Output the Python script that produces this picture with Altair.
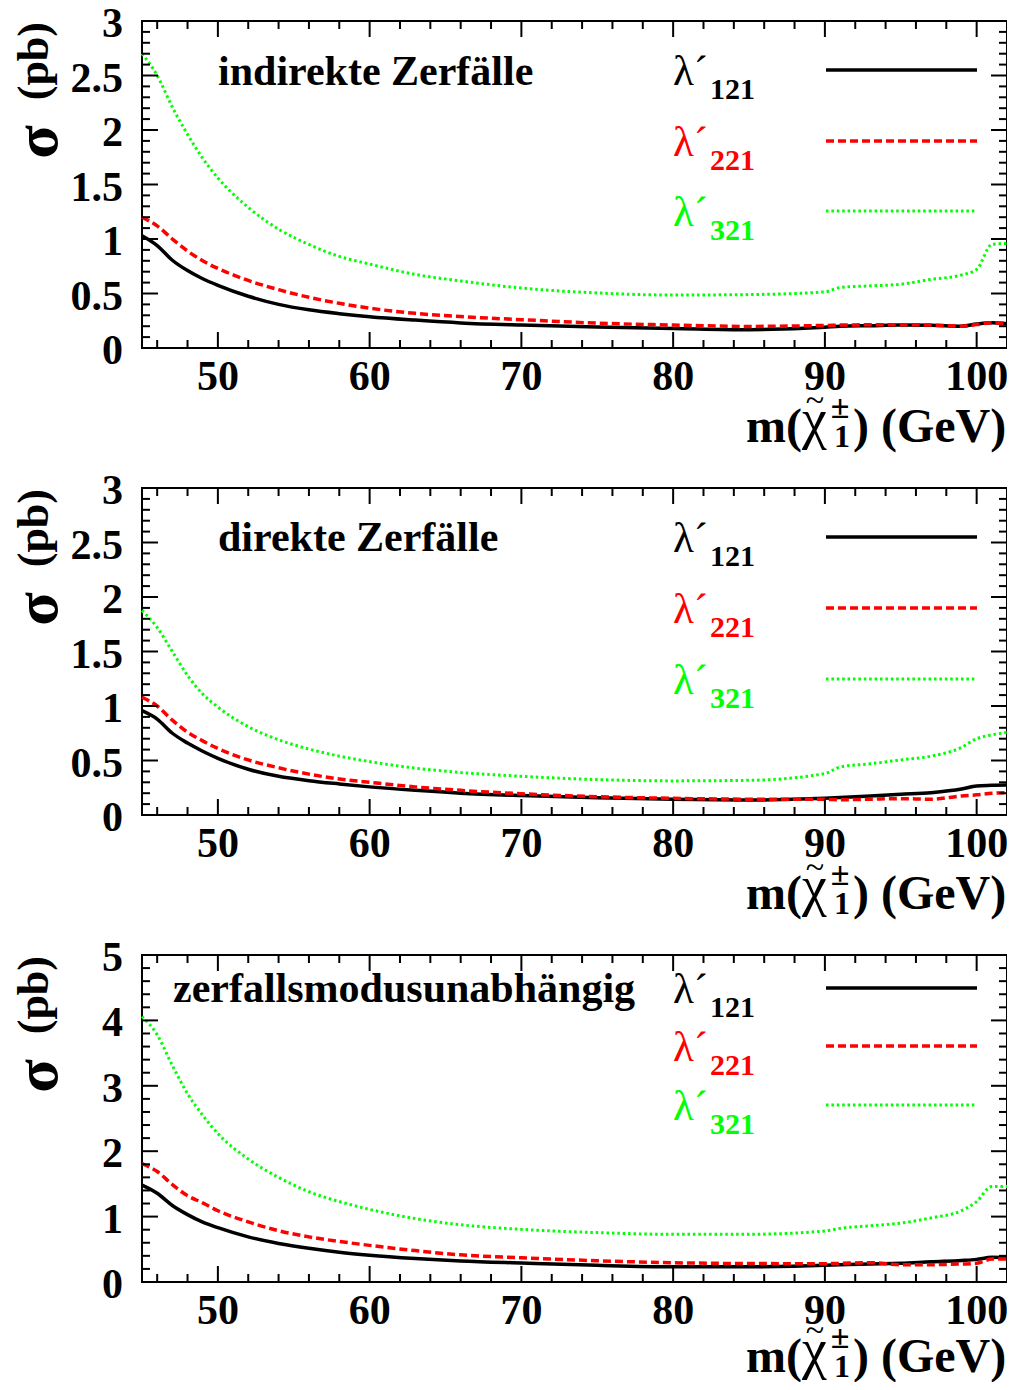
import altair as alt
import pandas as pd

# ---------------- data ----------------
mass = [45, 46, 47, 48, 49, 50, 52, 54, 56, 58, 60, 63, 66, 70, 75, 80, 85, 90, 91, 93, 95, 97, 99, 100, 101, 102]

ind_121 = [1.03, 0.94, 0.805, 0.71, 0.635, 0.575, 0.475, 0.40, 0.35, 0.315, 0.287, 0.256, 0.23, 0.21, 0.193, 0.18, 0.168, 0.19, 0.20, 0.205, 0.21, 0.208, 0.20, 0.22, 0.232, 0.222]
ind_221 = [1.20, 1.12, 1.00, 0.89, 0.80, 0.73, 0.62, 0.535, 0.465, 0.41, 0.365, 0.318, 0.288, 0.26, 0.228, 0.211, 0.198, 0.207, 0.21, 0.213, 0.214, 0.21, 0.20, 0.215, 0.232, 0.225]
ind_321 = [2.70, 2.50, 2.21, 1.96, 1.74, 1.56, 1.29, 1.09, 0.95, 0.84, 0.77, 0.675, 0.615, 0.55, 0.505, 0.486, 0.49, 0.515, 0.555, 0.57, 0.585, 0.63, 0.67, 0.72, 0.95, 0.96]

dir_121 = [0.957, 0.88, 0.75, 0.66, 0.585, 0.52, 0.42, 0.355, 0.315, 0.285, 0.258, 0.226, 0.20, 0.178, 0.158, 0.144, 0.138, 0.153, 0.16, 0.175, 0.19, 0.205, 0.238, 0.267, 0.272, 0.276]
dir_221 = [1.08, 1.00, 0.87, 0.76, 0.68, 0.61, 0.505, 0.433, 0.375, 0.33, 0.30, 0.258, 0.226, 0.195, 0.168, 0.153, 0.145, 0.144, 0.14, 0.145, 0.15, 0.145, 0.175, 0.185, 0.20, 0.205]
dir_321 = [1.877, 1.72, 1.50, 1.28, 1.11, 0.99, 0.81, 0.69, 0.605, 0.54, 0.49, 0.43, 0.39, 0.355, 0.325, 0.313, 0.318, 0.38, 0.44, 0.47, 0.505, 0.54, 0.62, 0.70, 0.735, 0.757]

all_121 = [1.48, 1.356, 1.17, 1.03, 0.915, 0.83, 0.69, 0.59, 0.515, 0.455, 0.41, 0.36, 0.322, 0.29, 0.255, 0.234, 0.234, 0.255, 0.265, 0.275, 0.285, 0.31, 0.33, 0.346, 0.377, 0.37]
all_221 = [1.81, 1.69, 1.49, 1.32, 1.21, 1.09, 0.92, 0.785, 0.69, 0.62, 0.56, 0.48, 0.415, 0.37, 0.325, 0.295, 0.282, 0.28, 0.285, 0.295, 0.265, 0.265, 0.275, 0.285, 0.35, 0.35]
all_321 = [4.06, 3.78, 3.31, 2.88, 2.55, 2.27, 1.88, 1.60, 1.38, 1.23, 1.11, 0.97, 0.875, 0.805, 0.755, 0.729, 0.73, 0.78, 0.82, 0.86, 0.90, 0.98, 1.09, 1.23, 1.46, 1.46]

series_keys = ["121", "221", "321"]
panel_titles = ["indirekte Zerfälle", "direkte Zerfälle", "zerfallsmodusunabhängig"]
panel_values = [
    [ind_121, ind_221, ind_321],
    [dir_121, dir_221, dir_321],
    [all_121, all_221, all_321],
]
y_max = [3, 3, 5]
y_major = [[0, 0.5, 1, 1.5, 2, 2.5, 3], [0, 0.5, 1, 1.5, 2, 2.5, 3], [0, 1, 2, 3, 4, 5]]
y_labels = [["0", "0.5", "1", "1.5", "2", "2.5", "3"],
            ["0", "0.5", "1", "1.5", "2", "2.5", "3"],
            ["0", "1", "2", "3", "4", "5"]]
y_minor_step = [0.1, 0.1, 0.2]
x_major = [50, 60, 70, 80, 90, 100]
x_labels = ["50", "60", "70", "80", "90", "100"]
x_minor = [m for m in range(46, 103, 2) if m % 10 != 0]
x_domain = [45, 102]

# ---------------- style / layout ----------------
W, H, GAP = 865, 327, 140
TOTAL_H = 3 * H + 2 * GAP
FONT = "Liberation Serif"
colors = {"121": "#000000", "221": "#ff0000", "321": "#00ff00"}
widths = {"121": 3.5, "221": 3.5, "321": 3.0}
dashes = {"121": None, "221": [8, 4], "321": [2.5, 2.9]}
MAJ, MIN = 16, 8

title_pos = [(76, 64), (76, 63), (31, 47)]
legend_y = [[49, 120, 190], [49, 120, 191], [33, 91, 150]]
xtitle_shift = [0, 0, -4]

xscale = alt.Scale(domain=x_domain, nice=False, zero=False)


def text_layer(txt, x, y, size, weight="bold", color="black", align="left",
               baseline="alphabetic", angle=None, font=FONT):
    kw = dict(font=font, fontSize=size, fontWeight=weight, color=color,
              align=align, baseline=baseline)
    if angle is not None:
        kw["angle"] = angle
    return alt.Chart(pd.DataFrame({"txt": [txt]})).mark_text(**kw).encode(
        x=alt.value(x), y=alt.value(y), text="txt:N")


def line_kw(key):
    kw = dict(color=colors[key], strokeWidth=widths[key])
    if dashes[key] is not None:
        kw["strokeDash"] = dashes[key]
    return kw


def panel_layers(i):
    T = i * (H + GAP)
    yscale = alt.Scale(domain=[0, y_max[i]], range=[T + H, T], nice=False, zero=False)

    rows = []
    for key, vals in zip(series_keys, panel_values[i]):
        for m, v in zip(mass, vals):
            rows.append({"m": m, "sigma": v, "series": key})
    df = pd.DataFrame(rows)

    layers = []
    # frame
    fdf = pd.DataFrame({"x0": [x_domain[0]], "x1": [x_domain[1]], "y0": [0], "y1": [y_max[i]]})
    layers.append(
        alt.Chart(fdf).mark_rect(filled=False, stroke="black", strokeWidth=2)
        .encode(x=alt.X("x0:Q", scale=xscale, axis=None), x2="x1:Q",
                y=alt.Y("y0:Q", scale=yscale, axis=None), y2="y1:Q")
    )

    for key in series_keys:
        layers.append(
            alt.Chart(df).transform_filter(alt.datum.series == key)
            .mark_line(interpolate="monotone", **line_kw(key))
            .encode(x=alt.X("m:Q", scale=xscale, axis=None),
                    y=alt.Y("sigma:Q", scale=yscale, axis=None))
        )

    # inward ticks on all four sides
    step = y_minor_step[i]
    n = int(round(y_max[i] / step))
    y_minor = [round(k * step, 3) for k in range(1, n) if round(k * step, 3) not in y_major[i]]
    tick_sets = [
        (x_major, "x", MAJ), (x_minor, "x", MIN),
        (y_major[i][1:-1], "y", MAJ), (y_minor, "y", MIN),
    ]
    for vals, ch, ln in tick_sets:
        tdf = pd.DataFrame({"t": vals})
        base = alt.Chart(tdf).mark_rule(color="black", strokeWidth=2)
        if ch == "x":
            enc = alt.X("t:Q", scale=xscale, axis=None)
            layers.append(base.encode(x=enc, y=alt.value(T + H), y2=alt.value(T + H - ln)))
            layers.append(base.encode(x=enc, y=alt.value(T), y2=alt.value(T + ln)))
        else:
            enc = alt.Y("t:Q", scale=yscale, axis=None)
            layers.append(base.encode(y=enc, x=alt.value(0), x2=alt.value(ln)))
            layers.append(base.encode(y=enc, x=alt.value(W), x2=alt.value(W - ln)))

    # tick labels
    xl = pd.DataFrame({"t": x_major, "lab": x_labels})
    layers.append(
        alt.Chart(xl).mark_text(font=FONT, fontSize=42, fontWeight="bold", color="black",
                                align="center", baseline="top")
        .encode(x=alt.X("t:Q", scale=xscale, axis=None), y=alt.value(T + H + 9), text="lab:N")
    )
    yl = pd.DataFrame({"t": y_major[i], "lab": y_labels[i]})
    layers.append(
        alt.Chart(yl).mark_text(font=FONT, fontSize=42, fontWeight="bold", color="black",
                                align="right", baseline="middle", dy=3)
        .encode(y=alt.Y("t:Q", scale=yscale, axis=None), x=alt.value(-19), text="lab:N")
    )

    # panel title
    tx, ty = title_pos[i]
    layers.append(text_layer(panel_titles[i], tx, T + ty, 42))

    # legend
    for key, ly in zip(series_keys, legend_y[i]):
        layers.append(text_layer("λ´", 531, T + ly + 15, 43, weight="normal", color=colors[key]))
        layers.append(text_layer(key, 568, T + ly + 29, 30, color=colors[key]))
        layers.append(
            alt.Chart(pd.DataFrame({"k": [key]})).mark_rule(**line_kw(key))
            .encode(x=alt.value(684), x2=alt.value(835), y=alt.value(T + ly))
        )

    # y axis title  sigma (pb)
    layers.append(text_layer("(pb)", -94, T + 1, 44, align="right", angle=270))
    layers.append(text_layer("σ", -85, T + 121, 62, align="center", angle=270))

    # x axis title  m(chi~^±_1) (GeV)
    B = T + H + xtitle_shift[i]
    layers.append(text_layer("m(", 604, B + 94, 48))
    layers.append(text_layer("χ", 660, B + 90, 56, weight="normal"))
    layers.append(text_layer("~", 673, B + 53, 34, weight="normal", align="center", baseline="middle"))
    layers.append(text_layer("±", 698, B + 60, 34, align="center", baseline="middle"))
    layers.append(text_layer("1", 700, B + 99, 32, align="center"))
    layers.append(text_layer(") (GeV)", 711, B + 94, 48))
    return layers


all_layers = panel_layers(0) + panel_layers(1) + panel_layers(2)

chart = alt.layer(*all_layers).resolve_scale(y="independent").properties(
    width=W, height=TOTAL_H,
    autosize=alt.AutoSizeParams(type="none"),
    padding={"left": 134, "top": 13, "right": 0, "bottom": 100},
).configure_view(stroke="transparent")

chart.save("out.html", embed_options={"renderer": "svg", "actions": False})
